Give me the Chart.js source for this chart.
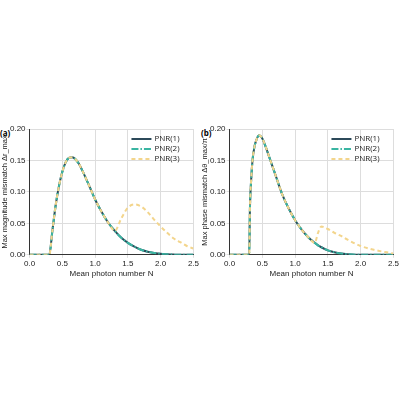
<!DOCTYPE html><html><head><script src="https://cdn.jsdelivr.net/npm/chart.js@4"></script>
<style>body{margin:0;width:400px;height:400px;background:#fff;font-family:"Open Sans",sans-serif;position:relative}
.w{position:absolute;top:119px;height:160px}.lbl{position:absolute;top:127px;font-size:8px;font-weight:bold}</style></head><body>
<div class="lbl" style="left:0">(a)</div><div class="lbl" style="left:201px">(b)</div>
<div class="w" style="left:0;width:200px"><canvas id="a"></canvas></div>
<div class="w" style="left:200px;width:200px"><canvas id="b"></canvas></div>
<script>
const xA=[0,0.29,0.3,0.35,0.4,0.45,0.5,0.55,0.6,0.65,0.7,0.75,0.8,0.9,1.0,1.1,1.2,1.3,1.4,1.5,1.6,1.7,1.8,1.9,2.0,2.1,2.2,2.3,2.4,2.5];
const a1=[0,0,0,0.04,0.08,0.11,0.132,0.147,0.154,0.155,0.152,0.145,0.135,0.112,0.088,0.068,0.051,0.038,0.027,0.019,0.013,0.008,0.005,0.003,0.0015,0.0008,0.0003,0,0,0];
const a3=[0,0,0,0.04,0.08,0.11,0.132,0.147,0.154,0.155,0.152,0.145,0.135,0.112,0.088,0.068,0.051,0.038,0.058,0.075,0.08,0.077,0.068,0.056,0.045,0.035,0.026,0.02,0.014,0.01];
const xB=[0,0.3,0.31,0.33,0.35,0.38,0.4,0.45,0.5,0.55,0.6,0.7,0.8,0.9,1.0,1.1,1.2,1.3,1.35,1.4,1.5,1.6,1.7,1.8,2.0,2.2,2.5];
const b1=[0,0,0.07,0.12,0.15,0.172,0.18,0.19,0.185,0.172,0.157,0.127,0.097,0.074,0.055,0.04,0.028,0.019,0.015,0.012,0.007,0.004,0.002,0.001,0,0,0];
const b3=[0,0,0.07,0.12,0.15,0.172,0.18,0.19,0.185,0.172,0.157,0.127,0.097,0.074,0.055,0.04,0.028,0.019,0.035,0.045,0.041,0.035,0.03,0.024,0.014,0.008,0.002];
const names=['PNR(1)','PNR(2)','PNR(3)'];
const cols=['#2c4a5a','#3ab5a2','#f3d58c'];
const dashes=[[],[7,2,1.5,2],[4,3]];
const legendPlugin={id:'lg',afterDraw(c){const ctx=c.ctx,ca=c.chartArea;ctx.save();ctx.font='8px "Open Sans"';ctx.textBaseline='middle';
c.data.datasets.forEach((d,i)=>{const y=ca.top+10+i*10,x=ca.right-62;ctx.strokeStyle=d.borderColor;ctx.lineWidth=2;ctx.setLineDash(d.borderDash);ctx.beginPath();ctx.moveTo(x,y);ctx.lineTo(x+20,y);ctx.stroke();ctx.fillStyle='#222';ctx.fillText(d.label,x+23,y);});ctx.restore();}};
function mk(id,xs,s1,s3,title){
 const ds=[s1,s1,s3].map((s,i)=>({label:names[i],order:3-i,data:xs.map((x,j)=>({x,y:s[j]})),borderColor:cols[i],borderDash:dashes[i],borderWidth:2,pointRadius:0,cubicInterpolationMode:'monotone',fill:false}));
 new Chart(document.getElementById(id),{type:'line',data:{datasets:ds},plugins:[legendPlugin],
 options:{animation:false,responsive:true,maintainAspectRatio:false,layout:{padding:{right:6,top:10}},
 plugins:{legend:{display:false},tooltip:{enabled:false}},
 scales:{x:{type:'linear',min:0,max:2.5,border:{color:'#333'},grid:{color:'#ddd',tickLength:3},ticks:{stepSize:0.5,font:{size:8},color:'#222',padding:1,callback:v=>v.toFixed(1)},title:{display:true,text:'Mean photon number N',font:{size:8},color:'#222',padding:0}},
 y:{min:0,max:0.2,border:{color:'#333'},grid:{color:'#ddd',tickLength:3},ticks:{stepSize:0.05,font:{size:8},color:'#222',padding:1,callback:v=>v.toFixed(2)},title:{display:true,text:title,font:{size:7.5},color:'#222',padding:0}}}}});
}
mk('a',xA,a1,a3,'Max magnitude mismatch Δr_max');
mk('b',xB,b1,b3,'Max phase mismatch Δθ_max/π');
</script></body></html>
